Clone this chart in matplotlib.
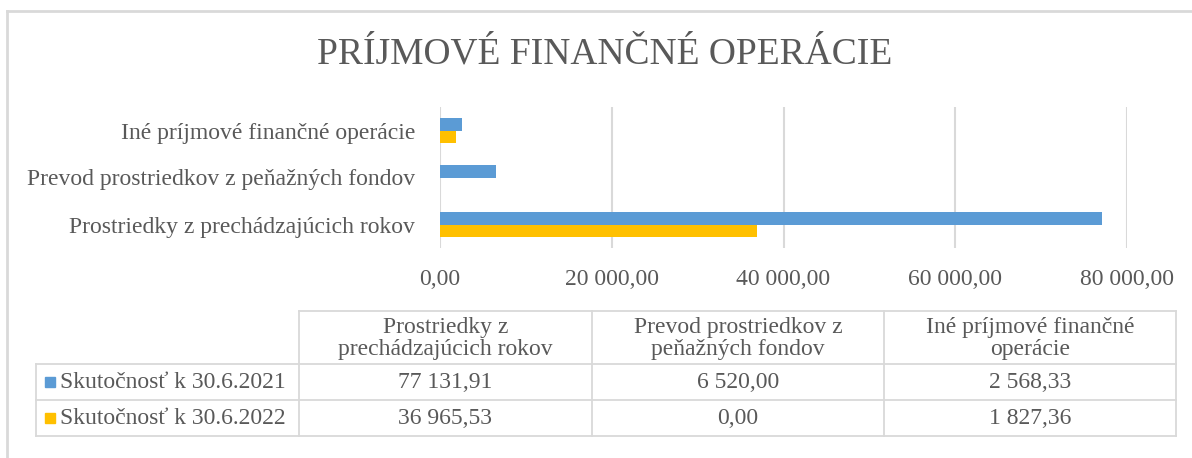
import numpy as np
import matplotlib
matplotlib.use("Agg")
import matplotlib.pyplot as plt
from matplotlib.patches import Rectangle

# data
categories = ["Prostriedky z prechádzajúcich rokov",
              "Prevod prostriedkov z peňažných fondov",
              "Iné príjmové finančné operácie"]
header_labels = ["Prostriedky z\nprechádzajúcich rokov",
                 "Prevod prostriedkov z\npeňažných fondov",
                 "Iné príjmové finančné\noperácie"]
series_names = ["Skutočnosť k 30.6.2021", "Skutočnosť k 30.6.2022"]
values_2021 = [77131.91, 6520.00, 2568.33]
values_2022 = [36965.53, 0.00, 1827.36]
x_ticks = [0, 20000, 40000, 60000, 80000]

colors = ["#5B9BD5", "#FFC000"]
text_col = "#595959"
grid_col = "#D9D9D9"
W, H = 1192, 458

plt.rcParams['font.family'] = ['Liberation Serif', 'DejaVu Serif']


def sk_fmt(v):
    s = "{:,.2f}".format(v)
    return s.replace(",", " ").replace(".", ",")


fig = plt.figure(figsize=(W / 100, H / 100), dpi=100)

# overlay in pixel coords for border, title and table
bg = fig.add_axes([0, 0, 1, 1])
bg.set_xlim(0, W)
bg.set_ylim(H, 0)
bg.axis("off")
# only top and left edges of the chart frame are visible
bg.plot([7, W], [10.5, 10.5], color=grid_col, lw=2)
bg.plot([7, 7], [10.5, H], color=grid_col, lw=2)
bg.text(605, 54, "PRÍJMOVÉ FINANČNÉ OPERÁCIE", fontsize=27, color=text_col,
        ha="center", va="center")

# bar chart
ax = fig.add_axes([440 / W, 1 - 248 / H, (1127 - 440) / W, (248 - 107) / H])
y = np.arange(len(categories))
h = 0.275
ax.barh(y + h / 2, values_2021, height=h, color=colors[0], zorder=3)
ax.barh(y - h / 2, values_2022, height=h, color=colors[1], zorder=3)
ax.set_ylim(-0.5, len(categories) - 0.5)
ax.set_xlim(0, 80000)
ax.set_xticks(x_ticks)
ax.set_xticklabels([sk_fmt(v) for v in x_ticks])
ax.set_yticks(y)
ax.set_yticklabels(categories)
ax.tick_params(length=0, labelsize=17, colors=text_col)
ax.tick_params(axis="x", pad=15)
ax.tick_params(axis="y", pad=18)
ax.grid(axis="x", color=grid_col, lw=1.5, zorder=0)
for s in ax.spines.values():
    s.set_visible(False)

# data table
col_x = [299, 592, 884, 1176]
leg_x = 36
row_y = [311, 364, 400, 436]
lw = 1.3
bg.plot([col_x[0], col_x[-1]], [row_y[0], row_y[0]], color=grid_col, lw=lw)
for cx in col_x:
    bg.plot([cx, cx], [row_y[0], row_y[3]], color=grid_col, lw=lw)
for ry in row_y[1:]:
    bg.plot([leg_x, col_x[-1]], [ry, ry], color=grid_col, lw=lw)
bg.plot([leg_x, leg_x], [row_y[1], row_y[3]], color=grid_col, lw=lw)

for i, lab in enumerate(header_labels):
    cx = (col_x[i] + col_x[i + 1]) / 2
    bg.text(cx, (row_y[0] + row_y[1]) / 2 + 1, lab, fontsize=17, color=text_col,
            ha="center", va="center", linespacing=1.1)

for r, (name, vals) in enumerate(zip(series_names, [values_2021, values_2022])):
    cy = (row_y[r + 1] + row_y[r + 2]) / 2
    bg.add_patch(Rectangle((45, cy - 5), 10, 10, color=colors[r]))
    bg.text(60, cy + 1, name, fontsize=17, color=text_col, ha="left", va="center")
    for i, v in enumerate(vals):
        cx = (col_x[i] + col_x[i + 1]) / 2
        bg.text(cx, cy + 1, sk_fmt(v), fontsize=17, color=text_col,
                ha="center", va="center")

fig.savefig("out.png", dpi=100)
